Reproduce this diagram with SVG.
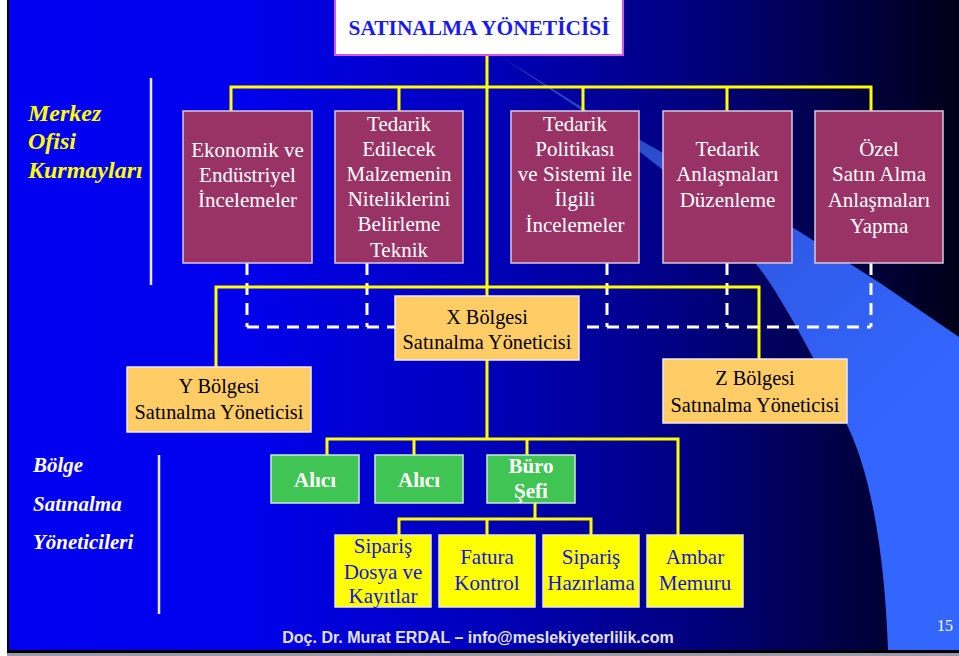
<svg xmlns="http://www.w3.org/2000/svg" width="959" height="656" viewBox="0 0 959 656">
  <defs>
    <linearGradient id="bg" gradientUnits="userSpaceOnUse" x1="9" y1="0" x2="959" y2="0">
      <stop offset="0" stop-color="#0000f2"/>
      <stop offset="0.25" stop-color="#0000ec"/>
      <stop offset="0.5" stop-color="#0000bb"/>
      <stop offset="0.72" stop-color="#00007e"/>
      <stop offset="1" stop-color="#000018"/>
    </linearGradient>
    <linearGradient id="comet" gradientUnits="userSpaceOnUse" x1="600" y1="120" x2="900" y2="420">
      <stop offset="0" stop-color="#2848c4"/>
      <stop offset="0.5" stop-color="#2f5ae6"/>
      <stop offset="1" stop-color="#3366ff"/>
    </linearGradient>
    <style>
      .bus { fill: none; stroke: #ffff00; stroke-width: 3; }
      .dash { fill: none; stroke: #ffffff; stroke-width: 3; stroke-dasharray: 12 8; }
      .rule { stroke: #e8e8ff; stroke-width: 2.5; }
      .staff rect { fill: #993366; stroke: #d8c8e0; stroke-width: 1.5; }
      .staff text { fill: #ffffff; font-family: "Liberation Serif", "Times New Roman", serif; font-size: 21px; text-anchor: middle; }
      .region rect { fill: #ffcc66; stroke: #f0e8f0; stroke-width: 1.5; }
      .region text { fill: #000000; font-family: "Liberation Serif", "Times New Roman", serif; font-size: 20.3px; text-anchor: middle; }
      .buyer rect { fill: #40c453; stroke: #d0e8d8; stroke-width: 1.5; }
      .buyer text { fill: #ffffff; font-family: "Liberation Serif", "Times New Roman", serif; font-size: 21px; font-weight: bold; text-anchor: middle; }
      .clerk rect { fill: #ffff00; stroke: #e8e8d0; stroke-width: 1.5; }
      .clerk text { fill: #1414d8; font-family: "Liberation Serif", "Times New Roman", serif; font-size: 21px; text-anchor: middle; }
      .side { font-family: "Liberation Serif", "Times New Roman", serif; font-weight: bold; font-style: italic; }
    </style>
  </defs>

  <!-- slide frame and background -->
  <rect x="0" y="0" width="959" height="656" fill="#ffffff"/>
  <rect x="7" y="0" width="952" height="653" fill="#000000"/>
  <rect x="7" y="653" width="952" height="3" fill="#9a9aaa"/>
  <rect x="9" y="0" width="950" height="650" fill="url(#bg)"/>

  <!-- light streak sweeping to the lower right -->
  <path d="M497,54 L583,108 L640,140 Q720,184 800,232 L880,283 L959,337 L959,650 L888,650 C885,560 872,470 843,417 C825,380 800,330 770,283 C745,245 700,205 663,170 L640,152 L583,111 Z" fill="url(#comet)"/>

  <!-- section dividers and side captions -->
  <line class="rule" x1="151" y1="78" x2="151" y2="285"/>
  <line class="rule" x1="159" y1="455" x2="159" y2="614"/>
  <text class="side" fill="#ffff00" font-size="24" x="28">
    <tspan x="28" y="121">Merkez</tspan>
    <tspan x="28" y="149">Ofisi</tspan>
    <tspan x="28" y="178">Kurmayları</tspan>
  </text>
  <text class="side" fill="#ffffff" font-size="21" x="33">
    <tspan x="33" y="472">Bölge</tspan>
    <tspan x="33" y="511">Satınalma</tspan>
    <tspan x="33" y="549">Yöneticileri</tspan>
  </text>

  <!-- connectors -->
  <g id="connectors">
    <path class="dash" d="M247,263 V327 M367,263 V327 M607,263 V327 M727,263 V327 M871,263 V327 M247,327 H871"/>
    <path class="bus" d="M487,55 V439"/>
    <path class="bus" d="M231,111 V87 H871 V111 M399,87 V111 M583,87 V111 M727,87 V111"/>
    <path class="bus" d="M216,367 V287 H759 V359"/>
    <path class="bus" d="M327,455 V439 H678 V535 M414,439 V455 M527,439 V455"/>
    <path class="bus" d="M535,503 V519 M399,535 V519 H591 V535 M487,519 V535"/>
  </g>

  <!-- head of purchasing -->
  <g id="title">
    <rect x="335" y="-2" width="288" height="57" fill="#ffffff" stroke="#dd55dd" stroke-width="2"/>
    <text x="479" y="35" fill="#1a1aee" font-family="'Liberation Serif', 'Times New Roman', serif" font-size="21.4" font-weight="bold" text-anchor="middle">SATINALMA YÖNETİCİSİ</text>
  </g>

  <!-- head office staff -->
  <g id="n-ekonomik" class="staff">
    <rect x="183" y="111" width="129" height="152"/>
    <text><tspan x="247.5" y="157">Ekonomik ve</tspan><tspan x="247.5" y="182">Endüstriyel</tspan><tspan x="247.5" y="207">İncelemeler</tspan></text>
  </g>
  <g id="n-malzeme" class="staff">
    <rect x="335" y="111" width="128" height="152"/>
    <text><tspan x="399" y="131">Tedarik</tspan><tspan x="399" y="156">Edilecek</tspan><tspan x="399" y="181">Malzemenin</tspan><tspan x="399" y="206">Niteliklerini</tspan><tspan x="399" y="231">Belirleme</tspan><tspan x="399" y="257">Teknik</tspan></text>
  </g>
  <g id="n-politika" class="staff">
    <rect x="511" y="111" width="128" height="152"/>
    <text><tspan x="575" y="131">Tedarik</tspan><tspan x="575" y="156">Politikası</tspan><tspan x="575" y="181">ve Sistemi ile</tspan><tspan x="575" y="206">İlgili</tspan><tspan x="575" y="232">İncelemeler</tspan></text>
  </g>
  <g id="n-anlasma" class="staff">
    <rect x="663" y="111" width="129" height="152"/>
    <text><tspan x="727.5" y="156">Tedarik</tspan><tspan x="727.5" y="181">Anlaşmaları</tspan><tspan x="727.5" y="207">Düzenleme</tspan></text>
  </g>
  <g id="n-ozel" class="staff">
    <rect x="815" y="111" width="128" height="152"/>
    <text><tspan x="879" y="156">Özel</tspan><tspan x="879" y="181">Satın Alma</tspan><tspan x="879" y="207">Anlaşmaları</tspan><tspan x="879" y="233">Yapma</tspan></text>
  </g>

  <!-- regional managers -->
  <g id="n-x" class="region">
    <rect x="395" y="296" width="184" height="64"/>
    <text><tspan x="487" y="324">X Bölgesi</tspan><tspan x="487" y="349">Satınalma Yöneticisi</tspan></text>
  </g>
  <g id="n-y" class="region">
    <rect x="127" y="367" width="184" height="65"/>
    <text><tspan x="219" y="393">Y Bölgesi</tspan><tspan x="219" y="419">Satınalma Yöneticisi</tspan></text>
  </g>
  <g id="n-z" class="region">
    <rect x="663" y="359" width="184" height="64"/>
    <text><tspan x="755" y="385">Z Bölgesi</tspan><tspan x="755" y="412">Satınalma Yöneticisi</tspan></text>
  </g>

  <!-- buyers and office chief -->
  <g id="n-alici-1" class="buyer">
    <rect x="271" y="455" width="88" height="48"/>
    <text x="315" y="487">Alıcı</text>
  </g>
  <g id="n-alici-2" class="buyer">
    <rect x="375" y="455" width="88" height="48"/>
    <text x="419" y="487">Alıcı</text>
  </g>
  <g id="n-buro" class="buyer">
    <rect x="487" y="455" width="88" height="48"/>
    <text><tspan x="531" y="473">Büro</tspan><tspan x="531" y="498">Şefi</tspan></text>
  </g>

  <!-- clerical staff -->
  <g id="n-siparis-dosya" class="clerk">
    <rect x="335" y="535" width="96" height="72"/>
    <text><tspan x="383" y="553">Sipariş</tspan><tspan x="383" y="579">Dosya ve</tspan><tspan x="383" y="603">Kayıtlar</tspan></text>
  </g>
  <g id="n-fatura" class="clerk">
    <rect x="439" y="535" width="96" height="72"/>
    <text><tspan x="487" y="564">Fatura</tspan><tspan x="487" y="590">Kontrol</tspan></text>
  </g>
  <g id="n-siparis-haz" class="clerk">
    <rect x="543" y="535" width="96" height="72"/>
    <text><tspan x="591" y="564">Sipariş</tspan><tspan x="591" y="590">Hazırlama</tspan></text>
  </g>
  <g id="n-ambar" class="clerk">
    <rect x="647" y="535" width="96" height="72"/>
    <text><tspan x="695" y="564">Ambar</tspan><tspan x="695" y="590">Memuru</tspan></text>
  </g>

  <!-- footer -->
  <text x="478" y="643" fill="#e2e2e8" font-family="'Liberation Sans', Arial, sans-serif" font-size="16" font-weight="bold" text-anchor="middle">Doç. Dr. Murat ERDAL – info@meslekiyeterlilik.com</text>
  <text x="945" y="631" fill="#ffffff" font-family="'Liberation Serif', 'Times New Roman', serif" font-size="16" text-anchor="middle">15</text>
</svg>
